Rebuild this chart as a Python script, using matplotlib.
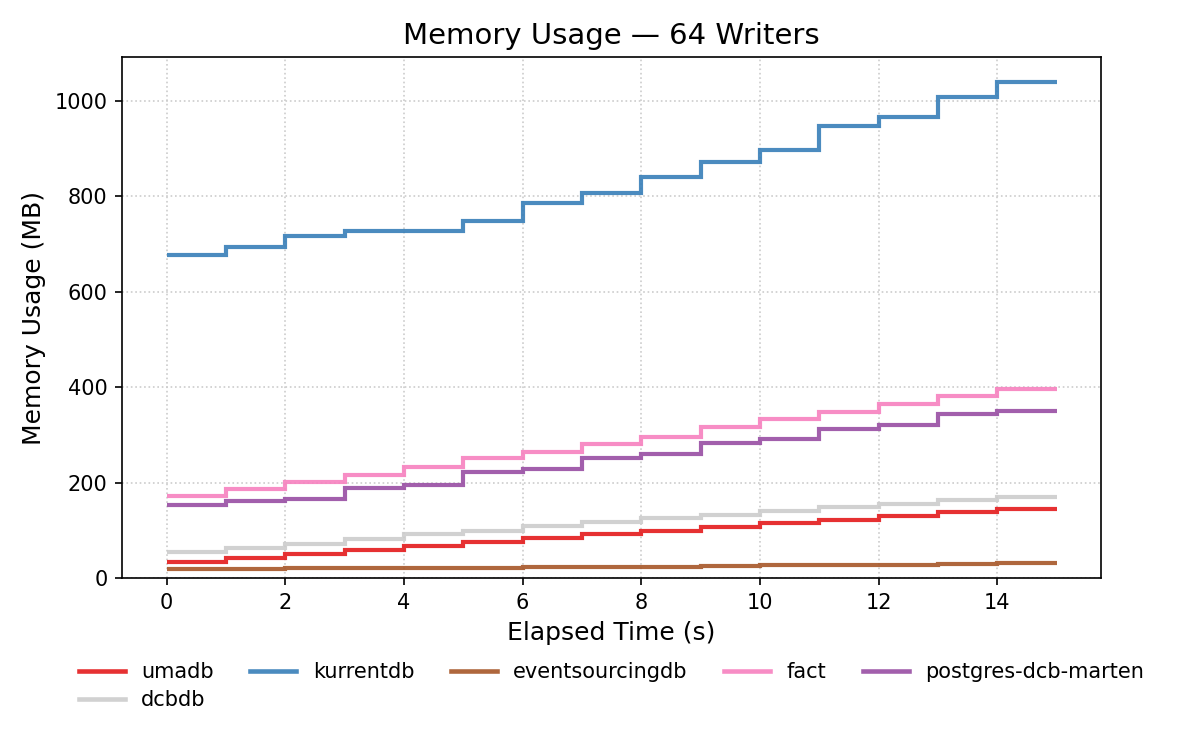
import numpy as np
import matplotlib
matplotlib.use("Agg")
import matplotlib.pyplot as plt

# memory usage per 1 s bucket (MB)
umadb = [34, 42, 50, 59, 67, 75, 84, 93, 99, 108, 116, 122, 131, 139, 145]
kurrentdb = [677, 694, 717, 728, 728, 748, 787, 808, 841, 873, 898, 948, 967, 1009, 1040]
eventsourcingdb = [19, 19, 21, 21, 21, 21, 23, 24, 24, 26.5, 28.5, 28.5, 28.5, 30.7, 31]
fact = [172, 187, 202, 216, 233, 251, 265, 281, 296, 316, 334, 349, 365, 381, 397]
postgres_dcb_marten = [154, 161, 166, 190, 196, 223, 229, 252, 260, 284, 291, 313, 321, 344, 351]
dcbdb = [55, 64, 72, 82, 92, 98, 110, 117, 126, 133, 141, 150, 156, 164, 170]

series = {
    "umadb": (umadb, "#e41a1c"),
    "kurrentdb": (kurrentdb, "#377eb8"),
    "eventsourcingdb": (eventsourcingdb, "#a65628"),
    "fact": (fact, "#f781bf"),
    "postgres-dcb-marten": (postgres_dcb_marten, "#984ea3"),
    "dcbdb": (dcbdb, "#cccccc"),
}

fig = plt.figure(figsize=(8, 5), dpi=150)
ax = fig.add_axes([0.1017, 0.229, 0.8158, 0.695])

for name, (vals, color) in series.items():
    edges = np.arange(len(vals) + 1)
    ax.stairs(vals, edges, baseline=None, color=color, alpha=0.9,
              linewidth=2.0, label=name)

ax.set_xlim(-0.75, 15.75)
ax.set_ylim(0, 1092)
ax.set_xticks(range(0, 15, 2))
ax.set_yticks(range(0, 1001, 200))
ax.grid(True, linestyle=":", color="#cccccc", linewidth=0.8)
ax.set_axisbelow(True)
ax.tick_params(labelsize=10)

ax.set_title("Memory Usage \u2014 64 Writers", fontsize=14)
ax.set_xlabel("Elapsed Time (s)", fontsize=12)
ax.set_ylabel("Memory Usage (MB)", fontsize=12)

# matplotlib fills legend columns first; reorder so rows read like the reference
order = ["umadb", "dcbdb", "kurrentdb", "eventsourcingdb", "fact", "postgres-dcb-marten"]
handles = [plt.Line2D([], [], color=series[n][1], alpha=0.9, linewidth=2.2) for n in order]
ax.legend(handles, order, loc="upper center", bbox_to_anchor=(0.5, -0.125), ncol=5,
          frameon=False, fontsize=10, handlelength=2.2, columnspacing=1.75,
          labelspacing=0.4)

fig.savefig("out.png", dpi=150)
